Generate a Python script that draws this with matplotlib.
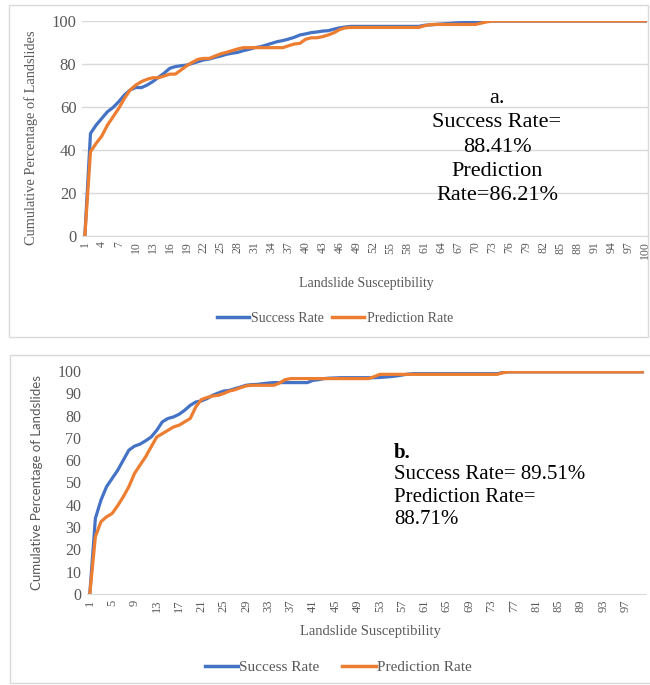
import matplotlib
matplotlib.use("Agg")
import matplotlib.pyplot as plt
from matplotlib.patches import Rectangle
from matplotlib.lines import Line2D

categories = list(range(1, 101))

a_success = [
    0, 47.7, 51.6, 54.7, 57.8, 59.8, 62.5, 65.6, 67.9, 69.1,
    69.0, 70.2, 71.8, 73.8, 75.7, 78.0, 78.8, 79.2, 79.5, 80.3,
    81.1, 81.9, 82.3, 83.1, 83.7, 84.5, 85.0, 85.4, 86.2, 86.8,
    87.6, 88.0, 88.8, 89.6, 90.4, 90.9, 91.6, 92.4, 93.5, 94.0,
    94.6, 94.9, 95.3, 95.5, 96.2, 96.8, 97.2, 97.5, 97.5, 97.5,
    97.5, 97.5, 97.5, 97.5, 97.5, 97.5, 97.5, 97.5, 97.5, 97.5,
    98.0, 98.2, 98.4, 98.6, 98.8, 99.0, 99.2, 99.3, 99.4, 99.5,
    99.6, 99.8, 100, 100, 100, 100, 100, 100, 100, 100,
    100, 100, 100, 100, 100, 100, 100, 100, 100, 100,
    100, 100, 100, 100, 100, 100, 100, 100, 100, 100,
]
a_prediction = [
    0, 39.2, 43.1, 46.5, 51.6, 55.5, 59.4, 64.0, 67.9, 70.2,
    71.8, 72.9, 73.6, 73.6, 74.4, 75.3, 75.3, 77.2, 79.2, 80.8,
    82.2, 82.6, 82.6, 83.7, 84.7, 85.4, 86.2, 87.0, 87.6, 87.6,
    87.6, 87.6, 87.6, 87.6, 87.6, 87.6, 88.5, 89.3, 89.6, 91.5,
    92.2, 92.2, 92.7, 93.5, 94.5, 96.0, 96.8, 97.0, 97.0, 97.0,
    97.0, 97.0, 97.0, 97.0, 97.0, 97.0, 97.0, 97.0, 97.0, 97.0,
    97.8, 98.3, 98.4, 98.4, 98.4, 98.4, 98.4, 98.4, 98.4, 98.4,
    99.0, 99.6, 100, 100, 100, 100, 100, 100, 100, 100,
    100, 100, 100, 100, 100, 100, 100, 100, 100, 100,
    100, 100, 100, 100, 100, 100, 100, 100, 100, 100,
]
b_success = [
    0, 33.9, 42.1, 48.1, 51.8, 55.5, 60.0, 64.5, 66.3, 67.2,
    68.7, 70.4, 73.4, 77.2, 78.7, 79.4, 80.6, 82.4, 84.6, 86.1,
    86.6, 87.6, 89.1, 90.1, 91.0, 91.3, 92.1, 92.8, 93.6, 93.9,
    94.0, 94.3, 94.6, 94.8, 94.8, 94.8, 94.8, 94.8, 94.8, 94.8,
    95.8, 96.1, 96.6, 96.8, 96.9, 97.0, 97.0, 97.0, 97.0, 97.0,
    97.0, 97.0, 97.1, 97.3, 97.5, 97.8, 98.2, 98.6, 98.8, 98.8,
    98.8, 98.8, 98.8, 98.8, 98.8, 98.8, 98.8, 98.8, 98.8, 98.8,
    98.8, 98.8, 98.8, 98.8, 99.3, 99.6, 99.6, 99.6, 99.6, 99.6,
    99.6, 99.6, 99.6, 99.6, 99.6, 99.6, 99.6, 99.6, 99.6, 99.6,
    99.6, 99.6, 99.6, 99.6, 99.6, 99.6, 99.6, 99.6, 99.6, 99.6,
]
b_prediction = [
    0, 25.7, 32.4, 34.6, 36.1, 39.6, 43.6, 48.1, 54.0, 57.8,
    61.5, 66.0, 70.4, 71.9, 73.4, 74.9, 75.7, 77.2, 78.7, 83.9,
    87.2, 88.1, 88.8, 89.1, 89.9, 91.0, 91.6, 92.5, 93.3, 93.6,
    93.6, 93.6, 93.6, 93.6, 94.6, 96.1, 96.6, 96.6, 96.6, 96.6,
    96.6, 96.6, 96.6, 96.6, 96.6, 96.6, 96.6, 96.6, 96.6, 96.6,
    96.6, 97.5, 98.5, 98.5, 98.5, 98.5, 98.5, 98.5, 98.5, 98.5,
    98.5, 98.5, 98.5, 98.5, 98.5, 98.5, 98.5, 98.5, 98.5, 98.5,
    98.5, 98.5, 98.5, 98.5, 99.2, 99.6, 99.6, 99.6, 99.6, 99.6,
    99.6, 99.6, 99.6, 99.6, 99.6, 99.6, 99.6, 99.6, 99.6, 99.6,
    99.6, 99.6, 99.6, 99.6, 99.6, 99.6, 99.6, 99.6, 99.6, 99.6,
]

a_xticks = list(range(1, 101, 3))
b_xticks = list(range(1, 101, 4))
a_yticks = [0, 20, 40, 60, 80, 100]
b_yticks = [0, 10, 20, 30, 40, 50, 60, 70, 80, 90, 100]
series_names = ["Success Rate", "Prediction Rate"]

BLUE = "#4472C4"
ORANGE = "#ED7D31"
GRID = "#d9d9d9"
TXT = "#595959"
SERIF = "Liberation Serif"

W, H = 650, 685
fig = plt.figure(figsize=(6.5, 6.85), dpi=100)
fig.patch.set_facecolor("white")


def fx(px):
    return px / W


def fy(py):
    return 1 - py / H


# panel borders
fig.add_artist(Rectangle((fx(9), fy(337)), fx(639), 332 / H, transform=fig.transFigure,
                         fill=False, ec=GRID, lw=1))
fig.add_artist(Rectangle((fx(10), fy(683)), fx(645), 328 / H, transform=fig.transFigure,
                         fill=False, ec=GRID, lw=1))

# ---------- panel a ----------
axa = fig.add_axes([fx(82), fy(236), fx(648 - 82), (236 - 21) / H])
axa.plot(categories, a_success, color=BLUE, lw=2.3, solid_joinstyle="round")
axa.plot(categories, a_prediction, color=ORANGE, lw=2.3, solid_joinstyle="round")
axa.set_xlim(0.5, 100.5)
axa.set_ylim(0, 100)
axa.set_yticks(a_yticks)
axa.set_yticklabels([str(v) for v in a_yticks], fontsize=12, color=TXT, family=SERIF)
axa.set_xticks(a_xticks)
axa.set_xticklabels([str(v) for v in a_xticks], rotation=90, fontsize=8.5, color=TXT,
                    family=SERIF)
axa.tick_params(length=0, pad=4)
axa.grid(axis="y", color=GRID, lw=1)
axa.set_axisbelow(True)
for s in ["top", "right", "left"]:
    axa.spines[s].set_visible(False)
axa.spines["bottom"].set_color(GRID)
axa.set_ylabel("Cumulative Percentage of Landslides", fontsize=10.4, color=TXT, family=SERIF)
axa.yaxis.set_label_coords(fx(38 - 82) / fx(566), (236 - 138) / 215)
fig.text(fx(366), fy(284), "Landslide Susceptibility", ha="center", va="center",
         fontsize=10, color=TXT, family=SERIF)
axa.text(fx(497 - 82) / fx(566), (236 - 147) / 215, "a.\nSuccess Rate=\n88.41%\nPrediction\nRate=86.21%",
         transform=axa.transAxes, ha="center", va="center", fontsize=16,
         family=SERIF, color="black", linespacing=1.36)

handles = [Line2D([], [], color=BLUE, lw=2.5), Line2D([], [], color=ORANGE, lw=2.5)]
fig.legend(handles, series_names, loc="center", bbox_to_anchor=(fx(335), fy(318)),
           ncol=2, frameon=False, prop={"family": SERIF, "size": 10},
           handlelength=2.3, handletextpad=0.15, columnspacing=0.6, labelcolor=TXT)

# ---------- panel b ----------
axb = fig.add_axes([fx(87), fy(594), fx(645 - 87), (594 - 371) / H])
axb.plot(categories, b_success, color=BLUE, lw=2.3, solid_joinstyle="round")
axb.plot(categories, b_prediction, color=ORANGE, lw=2.3, solid_joinstyle="round")
axb.set_xlim(0.5, 100.5)
axb.set_ylim(0, 100)
axb.set_yticks(b_yticks)
axb.set_yticklabels([str(v) for v in b_yticks], fontsize=11.5, color=TXT, family=SERIF)
axb.set_xticks(b_xticks)
axb.set_xticklabels([str(v) for v in b_xticks], rotation=90, fontsize=9, color=TXT,
                    family=SERIF)
axb.tick_params(length=0, pad=4)
for s in ["top", "right", "left"]:
    axb.spines[s].set_visible(False)
axb.spines["bottom"].set_color(GRID)
axb.set_ylabel("Cumulative Percentage of Landslides", fontsize=9.5, color=TXT, family="Lato")
axb.yaxis.set_label_coords(fx(43 - 87) / fx(558), 0.5)
fig.text(fx(370), fy(632), "Landslide Susceptibility", ha="center", va="center",
         fontsize=10.5, color=TXT, family=SERIF)
fig.text(fx(394), fy(453), "b.", ha="left", va="center", fontsize=15, family=SERIF,
         weight="bold", color="black")
fig.text(fx(394), fy(497), "Success Rate= 89.51%\nPrediction Rate=\n88.71%", ha="left",
         va="center", fontsize=15, family=SERIF, color="black", linespacing=1.25)

fig.legend(handles, series_names, loc="center", bbox_to_anchor=(fx(338), fy(667)),
           ncol=2, frameon=False, prop={"family": SERIF, "size": 11},
           handlelength=2.2, handletextpad=0.05, columnspacing=1.5, labelcolor=TXT)

fig.savefig("out.png", dpi=100, facecolor="white")
